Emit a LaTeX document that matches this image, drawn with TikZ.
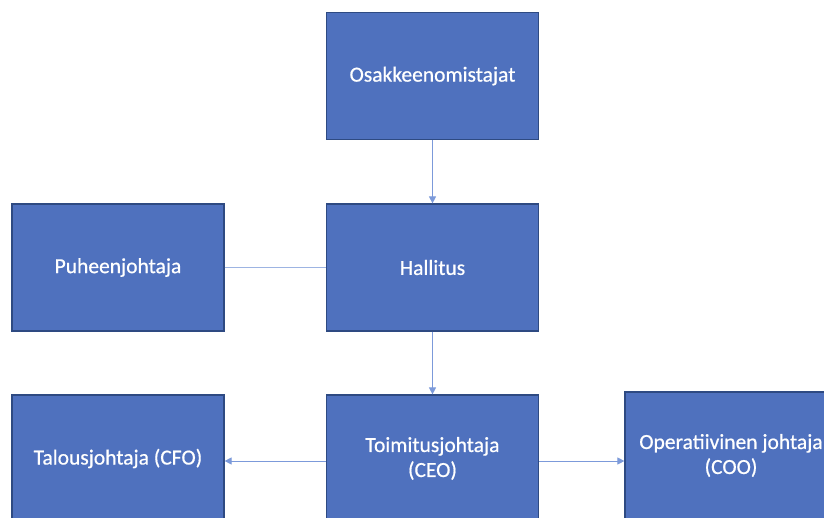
\documentclass[tikz,border=0pt]{standalone}
\usepackage{fontspec}
\setmainfont{Carlito}
\newfontfamily\boxfont[FakeBold=0.6]{Carlito}
\usetikzlibrary{arrows.meta}
\definecolor{boxfill}{HTML}{4F71BE}
\definecolor{boxline}{HTML}{2E4A82}
\definecolor{conn}{HTML}{7C9ADA}
\definecolor{connlight}{HTML}{9DB4E2}
\tikzset{
  orgbox/.style={draw=boxline, line width=1.2pt, fill=boxfill, text=white, minimum width=212pt, minimum height=127pt, inner sep=0pt, align=center, font=\boxfont\fontsize{21.5}{25}\selectfont},
  arr/.style={draw=conn, line width=1pt, -{Triangle[length=7pt,width=7pt]}},
  plain/.style={draw=connlight, line width=1.5pt}
}
\begin{document}
\begin{tikzpicture}[x=1pt,y=-1pt]
\useasboundingbox (0,0) rectangle (824,518);
\fill[white] (0,0) rectangle (824,518);
\node[orgbox] (osak) at (432.5,76) {Osakkeenomistajat};
\node[orgbox] (hall) at (432.5,267.5) {Hallitus};
\node[orgbox] (puhe) at (118,267.5) {Puheenjohtaja};
\node[orgbox] (ceo) at (432.5,458.5) {Toimitusjohtaja\\(CEO)};
\node[orgbox] (cfo) at (118,458.5) {Talousjohtaja (CFO)};
\node[orgbox] (coo) at (731,455.5) {Operatiivinen johtaja\\(COO)};
\draw[arr] (osak.south) -- (hall.north);
\draw[arr] (hall.south) -- (ceo.north);
\draw[plain] (puhe.east) -- (hall.west);
\draw[arr] (ceo.west |- 0,461) -- (cfo.east |- 0,461);
\draw[arr] (ceo.east |- 0,461) -- (coo.west |- 0,461);
\end{tikzpicture}
\end{document}
